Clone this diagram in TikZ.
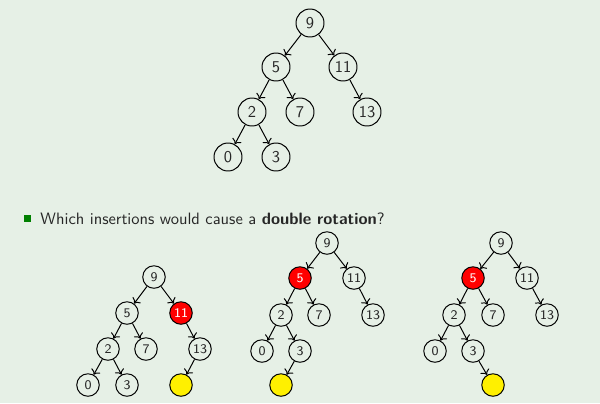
\documentclass[tikz,border=0pt]{standalone}
\usepackage{tikz}
\usetikzlibrary{arrows.meta}
\definecolor{slidebg}{RGB}{230,240,230}
\definecolor{bulletgreen}{RGB}{0,128,0}
\definecolor{newyellow}{RGB}{255,240,0}
\tikzset{
  vtx/.style={
    shape = circle,
    draw,
    semithick,
    inner sep = 0pt,
    minimum size = 5.97mm,
    text = black!85,
    font = \sffamily
  },
  smallvtx/.style={
    vtx,
    minimum size = 4.8mm,
    font = \sffamily\footnotesize
  },
  hot/.style={
    fill = red,
    text = white
  },
  fresh/.style={
    fill = newyellow
  },
  every picture/.style = {
    x=0.2133mm, y=-0.2133mm
  }
}

\begin{document}
\begin{tikzpicture}[->, semithick]
        \fill[slidebg] (0,0) rectangle (600,403);
        \useasboundingbox (0,0) rectangle (600,403);
        % the tree
        \node[vtx] (t9) at (310,23) {9};
        \node[vtx] (t5) at (276,67) {5};
        \node[vtx] (t11) at (343,67) {11};
        \node[vtx] (t2) at (252,112) {2};
        \node[vtx] (t7) at (300,112) {7};
        \node[vtx] (t13) at (367,112) {13};
        \node[vtx] (t0) at (228,157) {0};
        \node[vtx] (t3) at (276,157) {3};
        \foreach \p/\c in {9/5,9/11,5/2,5/7,11/13,2/0,2/3}
          \draw (t\p) -- (t\c);
        % the question
        \fill[bulletgreen] (24.2,214.8) rectangle (31.4,222.2);
        \node[anchor=base west, inner sep=0pt, text=black!85, font=\sffamily] (q) at (40,224)
          {Which insertions would cause a \textbf{double rotation}?};
        % first case: below 13
        \node[smallvtx] (a9) at (154,277) {9};
        \node[smallvtx] (a5) at (127,313) {5};
        \node[smallvtx, hot] (a11) at (181,313) {11};
        \node[smallvtx] (a2) at (108,349) {2};
        \node[smallvtx] (a7) at (146,349) {7};
        \node[smallvtx] (a13) at (200,349) {13};
        \node[smallvtx] (a0) at (88,385) {0};
        \node[smallvtx] (a3) at (127,385) {3};
        \node[smallvtx, fresh] (an) at (181,385) {};
        % second case: left of 3
        \node[smallvtx] (b9) at (327,243) {9};
        \node[smallvtx, hot] (b5) at (300,278) {5};
        \node[smallvtx] (b11) at (354,278) {11};
        \node[smallvtx] (b2) at (281,315) {2};
        \node[smallvtx] (b7) at (319,315) {7};
        \node[smallvtx] (b13) at (373,315) {13};
        \node[smallvtx] (b0) at (262,351) {0};
        \node[smallvtx] (b3) at (300,351) {3};
        \node[smallvtx, fresh] (bn) at (281,385) {};
        % third case: right of 3
        \node[smallvtx] (c9) at (501,243) {9};
        \node[smallvtx, hot] (c5) at (473,278) {5};
        \node[smallvtx] (c11) at (527,278) {11};
        \node[smallvtx] (c2) at (454,315) {2};
        \node[smallvtx] (c7) at (493,315) {7};
        \node[smallvtx] (c13) at (547,315) {13};
        \node[smallvtx] (c0) at (435,351) {0};
        \node[smallvtx] (c3) at (473,351) {3};
        \node[smallvtx, fresh] (cn) at (493,385) {};
        \foreach \t in {a,b,c}
          \foreach \p/\c in {9/5,9/11,5/2,5/7,11/13,2/0,2/3}
            \draw (\t\p) -- (\t\c);
        \draw (a13) -- (an);
        \draw (b3) -- (bn);
        \draw (c3) -- (cn);
    \end{tikzpicture}
\end{document}
